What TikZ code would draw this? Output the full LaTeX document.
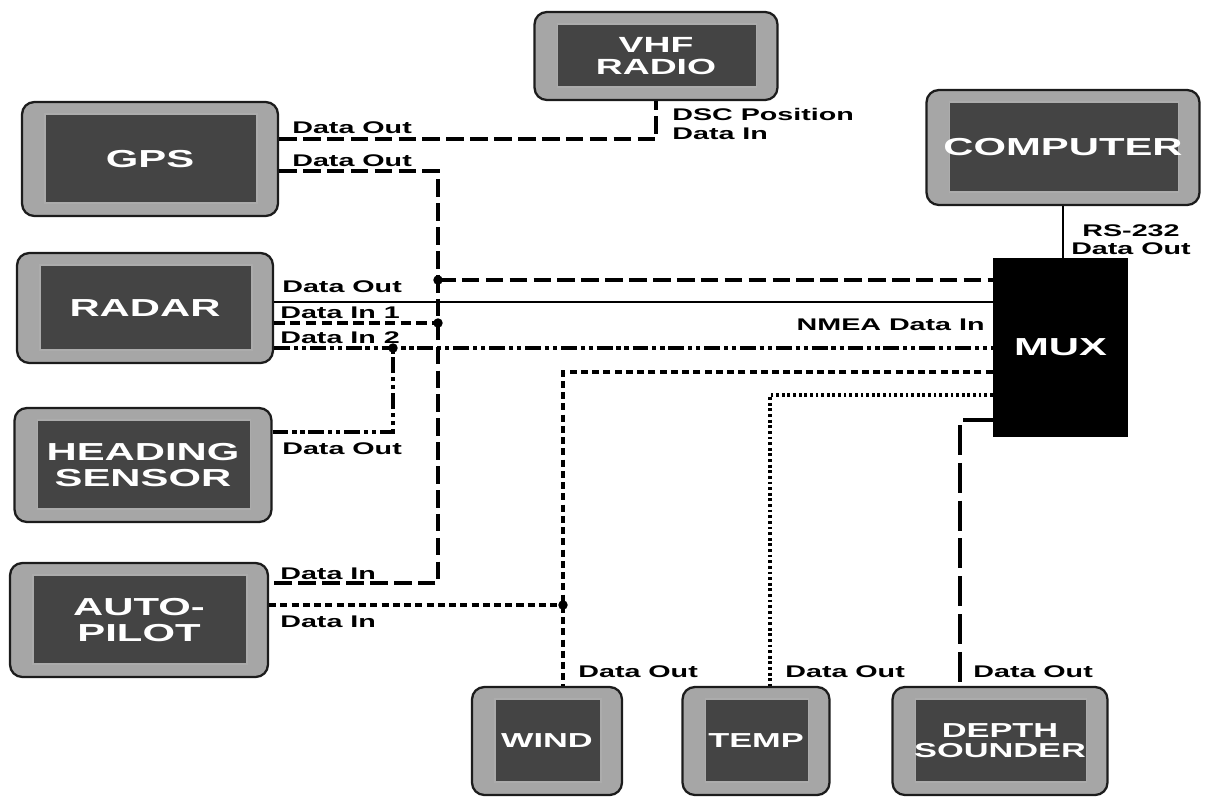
\documentclass[tikz,border=0pt]{standalone}
\usepackage{fontspec}
\setmainfont[FakeStretch=1.7]{Liberation Sans}
\usetikzlibrary{positioning}
\definecolor{bezel}{HTML}{A6A6A6}
\definecolor{screen}{HTML}{444444}
\definecolor{rim}{HTML}{1C1C1C}

\begin{document}
\begin{tikzpicture}[x=0.02cm, y=-0.02cm,
  unit/.style={draw=rim, line width=1.3pt, rounded corners=7pt, fill=bezel,
               text=white, align=center, inner sep=0pt,
               font=\fontsize{14}{14.5}\selectfont\bfseries,
               path picture={\fill[screen, draw=gray!65, line width=0.6pt, sharp corners]
                 ([xshift=0.46cm, yshift=0.26cm]path picture bounding box.south west) rectangle
                 ([xshift=-0.42cm, yshift=-0.24cm]path picture bounding box.north east);}},
  minor/.style={font=\fontsize{#1}{#1}\selectfont\bfseries},
  hub/.style={fill=black, text=white, inner sep=0pt,
              font=\fontsize{14}{14.5}\selectfont\bfseries},
  tag/.style={font=\fontsize{9.6}{10.4}\selectfont\bfseries, inner sep=0pt, align=left},
  wire/.style={line width=1.8pt, line cap=butt},
  longdash/.style={wire, dash pattern=on 10pt off 3.6pt},
  middash/.style={wire, dash pattern=on 6pt off 3pt},
  shortdash/.style={wire, dash pattern=on 4pt off 2.4pt},
  dotline/.style={wire, dash pattern=on 1.6pt off 1.6pt},
  dashdots/.style={wire, dash pattern=on 9pt off 2.2pt on 2.4pt off 2.2pt on 2.4pt off 2.2pt},
  sparse/.style={wire, dash pattern=on 17pt off 4.5pt},
  solidwire/.style={line width=1.3pt},
  joint/.style={fill=black},
]
\useasboundingbox (0,0) rectangle (1211,802);
\node[unit, minor=12.5, minimum width=4.86cm, minimum height=1.76cm] (vhf) at (656,56) {VHF\\RADIO};
\node[unit, minimum width=5.12cm, minimum height=2.28cm] (gps) at (150,159) {GPS};
\node[unit, minimum width=5.46cm, minimum height=2.30cm] (computer) at (1063,147.5) {COMPUTER};
\node[unit, minimum width=5.12cm, minimum height=2.20cm] (radar) at (145,308) {RADAR};
\node[unit, minimum width=5.14cm, minimum height=2.28cm] (heading) at (143,465) {HEADING\\SENSOR};
\node[unit, minimum width=5.16cm, minimum height=2.28cm] (autopilot) at (139,620) {AUTO-\\PILOT};
\node[unit, minor=11.5, minimum width=3.00cm, minimum height=2.16cm] (wind) at (547,741) {WIND};
\node[unit, minor=11.5, minimum width=2.94cm, minimum height=2.16cm] (temp) at (756,741) {TEMP};
\node[unit, minor=11.5, minimum width=4.30cm, minimum height=2.16cm] (depth) at (1000,741) {DEPTH\\SOUNDER};
\node[hub, minimum width=2.70cm, minimum height=3.58cm] (mux) at (1060.5,347.5) {MUX};

\coordinate (ja) at (438,280);
\coordinate (jb) at (438,323);
\coordinate (jc) at (393,348);
\coordinate (jd) at (563,605);

\draw[longdash] (gps.east |- 0,139) -| (vhf.south);
\draw[longdash] (gps.east |- 0,171) -| (438,583) -- (autopilot.east |- 0,583);
\draw[longdash] (ja) -- (ja -| mux.west);
\draw[solidwire] (radar.east |- 0,302) -- (mux.west |- 0,302);
\draw[middash] (radar.east |- jb) -- (jb);
\draw[dashdots] (radar.east |- jc) -- (jc -| mux.west);
\draw[dashdots] (heading.east |- 0,432) -| (jc);
\draw[shortdash] (autopilot.east |- jd) -- (jd);
\draw[shortdash] (mux.west |- 0,372) -| (jd |- wind.north);
\draw[dotline] (mux.west |- 0,395) -| ([xshift=0.28cm]temp.north);
\draw[sparse] (mux.west |- 0,420) -| ([xshift=-0.8cm]depth.north);
\draw[solidwire] (computer.south) -- (computer.south |- mux.north);
\foreach \j in {ja,jb,jc,jd}
  \fill[joint] (\j) circle[radius=2.7pt];

\node[tag, anchor=west] (vhfin) at (672,124) {DSC Position\\Data In};
\node[tag, anchor=west] (gpsout) at (292,128) {Data Out};
\node[tag, anchor=west] (gpsbus) at (292,161) {Data Out};
\node[tag, anchor=west] (radarout) at (282,287) {Data Out};
\node[tag, anchor=west] (radarin) at (280,313) {Data In 1};
\node[tag, anchor=west] (radarin2) at (280,338) {Data In 2};
\node[tag, anchor=east] (nmea) at (985,325) {NMEA Data In};
\node[tag, anchor=west] (headout) at (282,449) {Data Out};
\node[tag, anchor=west] (pilotin) at (280,574) {Data In};
\node[tag, anchor=west] (pilotin2) at (280,622) {Data In};
\node[tag, anchor=west] (windout) at (578,672) {Data Out};
\node[tag, anchor=west] (tempout) at (785,672) {Data Out};
\node[tag, anchor=west] (depthout) at (973,672) {Data Out};
\node[tag, align=center] (rsout) at (1131,240) {RS-232\\Data Out};
\end{tikzpicture}
\end{document}
